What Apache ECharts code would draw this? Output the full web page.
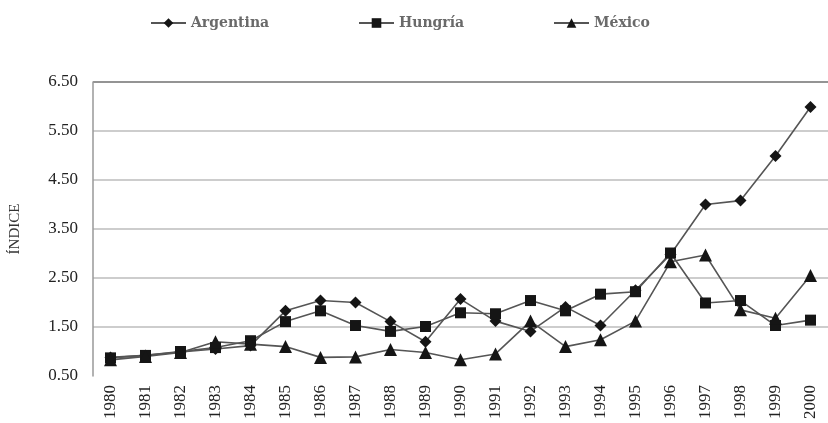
<!DOCTYPE html>
<html>
<head>
<meta charset="utf-8">
<script src="https://cdn.jsdelivr.net/npm/echarts@6/dist/echarts.min.js"></script>
<style>
  html, body { margin: 0; padding: 0; background: #fff; }
  #chart { width: 828px; height: 423px; }
</style>
</head>
<body>
<div id="chart"></div>
<script>
// Years on the horizontal axis
const years = ['1980','1981','1982','1983','1984','1985','1986','1987','1988','1989','1990',
               '1991','1992','1993','1994','1995','1996','1997','1998','1999','2000'];

// Index values per country
const argentina = [0.88, 0.92, 0.99, 1.05, 1.12, 1.83, 2.04, 2.00, 1.61, 1.20, 2.07,
                   1.62, 1.41, 1.91, 1.53, 2.25, 2.98, 4.00, 4.08, 4.99, 5.99];
const hungria   = [0.87, 0.92, 1.00, 1.08, 1.22, 1.61, 1.83, 1.53, 1.41, 1.51, 1.79,
                   1.77, 2.04, 1.83, 2.17, 2.22, 3.01, 1.99, 2.04, 1.53, 1.64];
const mexico    = [0.83, 0.90, 0.98, 1.20, 1.15, 1.10, 0.88, 0.89, 1.04, 0.98, 0.83,
                   0.95, 1.62, 1.10, 1.24, 1.62, 2.83, 2.97, 1.85, 1.68, 2.55];

// Value axis ticks
const yMin = 0.5, yMax = 6.5, yStep = 1;

const serif = 'Liberation Serif';
const legendFont = { fontFamily: 'DejaVu Serif', fontWeight: 'bold', fontSize: 14, color: '#6a6a6a' };

function makeSeries(name, data, symbol, size) {
  return {
    name, type: 'line', data, symbol, symbolSize: size,
    lineStyle: { color: '#555', width: 1.6 },
    itemStyle: { color: '#151515' },
    emphasis: { disabled: true },
    animation: false
  };
}

function legendAt(name, left) {
  return {
    data: [name], left, top: 11, itemWidth: 35, itemHeight: 12, itemGap: 4,
    textStyle: legendFont, selectedMode: false
  };
}

const chart = echarts.init(document.getElementById('chart'), null, { renderer: 'canvas' });
chart.setOption({
  backgroundColor: '#fff',
  animation: false,
  legend: [legendAt('Argentina', 145), legendAt('Hungría', 353), legendAt('México', 548)],
  grid: { left: 91, right: -8, top: 82, bottom: 47 },
  xAxis: {
    type: 'category', data: years, boundaryGap: true,
    axisLine: { show: false }, axisTick: { show: false },
    axisLabel: { rotate: 90, fontFamily: serif, fontSize: 17, color: '#222', margin: 9, interval: 0 }
  },
  yAxis: {
    type: 'value', min: yMin, max: yMax, interval: yStep,
    name: 'ÍNDICE', nameLocation: 'middle', nameGap: 70, nameRotate: 90,
    nameTextStyle: { fontFamily: serif, fontSize: 15, color: '#333' },
    axisLine: { show: true, lineStyle: { color: '#999', width: 1.5 } },
    axisTick: { show: false },
    axisLabel: { fontFamily: serif, fontSize: 17, color: '#222', margin: 15,
                 formatter: v => v.toFixed(2) },
    splitLine: { show: true, lineStyle: {
      color: ['rgba(0,0,0,0)', '#bdbdbd', '#bdbdbd', '#bdbdbd', '#bdbdbd', '#bdbdbd', '#707070'],
      width: 1.5 } }
  },
  series: [
    makeSeries('Argentina', argentina, 'diamond', 12),
    makeSeries('Hungría', hungria, 'rect', 11),
    makeSeries('México', mexico, 'triangle', 13)
  ]
});
</script>
</body>
</html>
